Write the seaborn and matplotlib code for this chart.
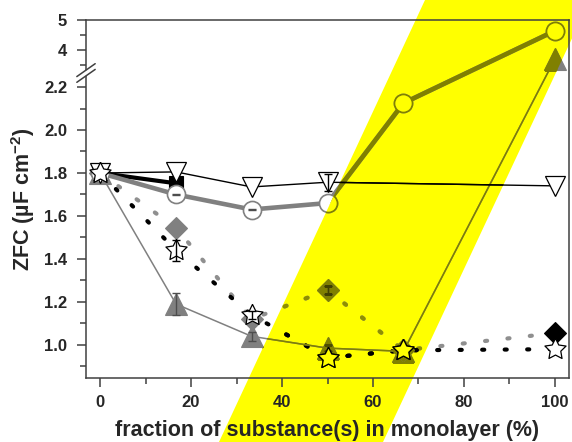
import numpy as np
import matplotlib
matplotlib.use("Agg")
import matplotlib.pyplot as plt
import seaborn as sns
from matplotlib.patches import Polygon
from matplotlib.lines import Line2D
from matplotlib.colors import to_rgb
from matplotlib.ticker import FixedLocator, FixedFormatter

# ---------------- data ----------------
frac = [0, 16.7, 33.3, 50, 66.7, 100]

tri_down_x = [0, 16.7, 33.3, 50, 100]
tri_down_y = [1.80, 1.805, 1.735, 1.757, 1.74]
tri_down_err = [0.0, 0.0, 0.0, 0.04, 0.0]

square_x = [0, 16.7]
square_y = [1.80, 1.752]

circle_y = [1.80, 1.70, 1.63, 1.66, 2.125, 4.64]
circle_err = [0.0, 0.004, 0.004, 0.0, 0.0, 0.0]

tri_up_y = [1.80, 1.19, 1.04, 0.985, 0.97, 3.70]
tri_up_err = [0.0, 0.05, 0.02, 0.015, 0.0, 0.0]

diamond_y = [1.80, 1.545, 1.12, 1.255, 0.975, 1.055]
diamond_err = [0.0, 0.0, 0.0, 0.02, 0.0, 0.0]

star_y = [1.80, 1.44, 1.14, 0.94, 0.975, 0.98]
star_err = [0.0, 0.05, 0.02, 0.0, 0.0, 0.0]

x_ticks = [0, 20, 40, 60, 80, 100]
x_minor = [10, 30, 50, 70, 90]
y_ticks = [1.0, 1.2, 1.4, 1.6, 1.8, 2.0, 2.2, 4, 5]
y_ticklabels = ["1.0", "1.2", "1.4", "1.6", "1.8", "2.0", "2.2", "4", "5"]
y_minor = [0.9, 1.1, 1.3, 1.5, 1.7, 1.9, 2.1, 3.5, 4.5]

x_label = "fraction of substance(s) in monolayer (%)"
y_label = "ZFC (µF cm$^{-2}$)"

# ---------------- style ----------------
sns.set_style("white")
plt.rcParams["font.family"] = ["Liberation Sans", "DejaVu Sans"]
plt.rcParams["font.weight"] = "bold"
plt.rcParams["mathtext.fontset"] = "custom"
plt.rcParams["mathtext.rm"] = "Liberation Sans:bold"
plt.rcParams["mathtext.bf"] = "Liberation Sans:bold"
plt.rcParams["mathtext.default"] = "bf"

W, H = 572, 442
fig = plt.figure(figsize=(W / 100, H / 100), dpi=100)
fig.patch.set_facecolor("white")
ax = fig.add_axes([86 / W, (H - 378) / H, (569 - 86) / W, (378 - 20) / H])
ax.set_facecolor("none")

# broken (piecewise) y scale
LO0, PX, BRK_LO, BRK_HI, PX_UP = 0.846, 215.0, 2.27, 3.27, 30.0
p_brk = (BRK_LO - LO0) * PX
_xp = np.array([-20.0, BRK_LO, BRK_HI, 50.0])
_fp = np.array([(-20.0 - LO0) * PX, p_brk, p_brk + 0.1, p_brk + 0.1 + (50 - BRK_HI) * PX_UP])


def fwd(v):
    return np.interp(v, _xp, _fp)


def inv(p):
    return np.interp(p, _fp, _xp)


ax.set_yscale("function", functions=(fwd, inv))
ax.set_xlim(-3.1, 103.1)
ax.set_ylim(LO0, 5.0)

# yellow band (figure pixel coords, top-left origin)
band_px = [(425, 0), (590, 0), (383, H), (219, H)]
band_xy = [(x / W, 1 - y / H) for x, y in band_px]
band = Polygon(band_xy, closed=True, transform=fig.transFigure,
               facecolor=(1, 1, 0), edgecolor="none", zorder=-5)
fig.add_artist(band)
band_clip = Polygon(band_xy, closed=True, transform=fig.transFigure)

GRAY = (0.5, 0.5, 0.5)
LGRAY = (0.56, 0.56, 0.56)

# plump five-pointed star marker
_ang = np.pi / 2 + np.arange(10) * np.pi / 5
_rad = np.where(np.arange(10) % 2 == 0, 1.0, 0.5)
STAR = list(zip(_rad * np.cos(_ang), _rad * np.sin(_ang)))
STAR.append(STAR[0])


def ident(c):
    return to_rgb(c)


def yellowize(c):
    r, g, b = to_rgb(c)
    return (r, g, 0.0)


def ebar(x, y, err, color, z, col):
    xs = [a for a, e in zip(x, err) if e > 0]
    ys = [b for b, e in zip(y, err) if e > 0]
    es = [e for e in err if e > 0]
    if xs:
        ax.errorbar(xs, ys, yerr=es, fmt="none", ecolor=col(color),
                    elinewidth=1.0, capsize=2.8, capthick=1.0, zorder=z)


def dotted(y, color, z, col):
    sns.lineplot(x=frac, y=y, ax=ax, color=col(color), lw=3.0,
                 linestyle=(0, (0.5, 4.9)), zorder=z,
                 errorbar=None, legend=False, sort=False)
    ax.lines[-1].set_dash_capstyle("round")


def draw_all(col):
    # gray dotted line (diamond series) and black dotted line (star series)
    dotted(diamond_y, LGRAY, 2, col)
    dotted(star_y, "black", 2.2, col)
    # gray filled up-triangles, thin gray line
    sns.lineplot(x=frac, y=tri_up_y, ax=ax, color=col(GRAY), lw=1.1,
                 marker="^", markersize=16, markerfacecolor=col(GRAY),
                 markeredgecolor=col(GRAY), markeredgewidth=0.8, zorder=3,
                 errorbar=None, legend=False, sort=False)
    ebar(frac, tri_up_y, tri_up_err, (0.3, 0.3, 0.3), 3.5, col)
    # diamonds
    sns.lineplot(x=frac[:-1], y=diamond_y[:-1], ax=ax, color=col(GRAY),
                 linestyle="none", marker="D", markersize=11.5,
                 markerfacecolor=col(GRAY), markeredgecolor=col(GRAY),
                 markeredgewidth=0.8, zorder=4, errorbar=None, legend=False,
                 sort=False)
    sns.lineplot(x=frac[-1:], y=diamond_y[-1:], ax=ax, color=col("black"),
                 linestyle="none", marker="D", markersize=11.5,
                 markerfacecolor=col("black"), markeredgecolor=col("black"),
                 markeredgewidth=0.8, zorder=4, errorbar=None, legend=False,
                 sort=False)
    ebar(frac, diamond_y, diamond_err, (0.25, 0.25, 0.25), 4.5, col)
    # black squares, thick black line
    sns.lineplot(x=square_x, y=square_y, ax=ax, color=col("black"), lw=3.0,
                 marker="s", markersize=10, markerfacecolor=col("black"),
                 markeredgecolor=col("black"), markeredgewidth=0.8, zorder=5,
                 errorbar=None, legend=False, sort=False)
    # open circles, thick gray line
    sns.lineplot(x=frac, y=circle_y, ax=ax, color=col(GRAY), lw=3.3,
                 marker="o", markersize=13, markerfacecolor=col("white"),
                 markeredgecolor=col(GRAY), markeredgewidth=1.2, zorder=6,
                 errorbar=None, legend=False, sort=False)
    ebar(frac, circle_y, circle_err, (0.3, 0.3, 0.3), 6.5, col)
    # open down-triangles, thin black line
    sns.lineplot(x=tri_down_x, y=tri_down_y, ax=ax, color=col("black"),
                 lw=1.0, marker="v", markersize=15,
                 markerfacecolor=col("white"), markeredgecolor=col("black"),
                 markeredgewidth=0.9, zorder=7, errorbar=None, legend=False,
                 sort=False)
    ebar(tri_down_x, tri_down_y, tri_down_err, "black", 7.5, col)
    # open stars (markers only; their line is the black dotted one)
    sns.lineplot(x=frac, y=star_y, ax=ax, color=col("black"),
                 linestyle="none", marker=STAR, markersize=16,
                 markerfacecolor=col("white"), markeredgecolor=col("black"),
                 markeredgewidth=0.9, zorder=8, errorbar=None, legend=False,
                 sort=False)
    ebar(frac, star_y, star_err, "black", 8.5, col)


draw_all(ident)
before = set(ax.get_children())
draw_all(yellowize)
for a in ax.get_children():
    if a not in before:
        a.set_clip_path(band_clip)

# ---------------- axes styling ----------------
SP = (0.25, 0.25, 0.25)
for s in ax.spines.values():
    s.set_color(SP)
    s.set_linewidth(1.1)
    s.set_zorder(20)

ax.xaxis.set_major_locator(FixedLocator(x_ticks))
ax.xaxis.set_minor_locator(FixedLocator(x_minor))
ax.yaxis.set_major_locator(FixedLocator(y_ticks))
ax.yaxis.set_major_formatter(FixedFormatter(y_ticklabels))
ax.yaxis.set_minor_locator(FixedLocator(y_minor))
ax.set_xticklabels([str(t) for t in x_ticks])

ax.tick_params(axis="both", which="major", direction="out", length=6.5,
               width=1.1, color=SP, labelsize=12, top=False, right=False,
               left=True, bottom=True)
ax.tick_params(axis="both", which="minor", direction="out", length=4,
               width=1.1, color=SP, top=False, right=False, left=True,
               bottom=True)
ax.tick_params(axis="y", which="major", pad=7)
ax.tick_params(axis="x", which="major", pad=6)
for lab in ax.get_xticklabels() + ax.get_yticklabels():
    lab.set_fontweight("bold")

ax.set_xlabel(x_label, fontsize=15.5, fontweight="bold", labelpad=7)
ax.set_ylabel(y_label, fontsize=15.5, fontweight="bold", labelpad=5)

# break marks on the left spine
yb = (378 - 73) / 358.0
dx, dy = 0.019, 0.036
ax.plot([-0.01, 0.01], [yb, yb], transform=ax.transAxes,
        color="white", lw=4, clip_on=False, zorder=21, solid_capstyle="butt")
for off in (0.0, -0.016):
    ax.add_line(Line2D([-dx, dx], [yb + off - dy / 2 + 0.008, yb + off + dy / 2 + 0.008],
                       transform=ax.transAxes, color=SP, lw=1.1,
                       clip_on=False, zorder=22))

fig.savefig("out.png", dpi=100)
